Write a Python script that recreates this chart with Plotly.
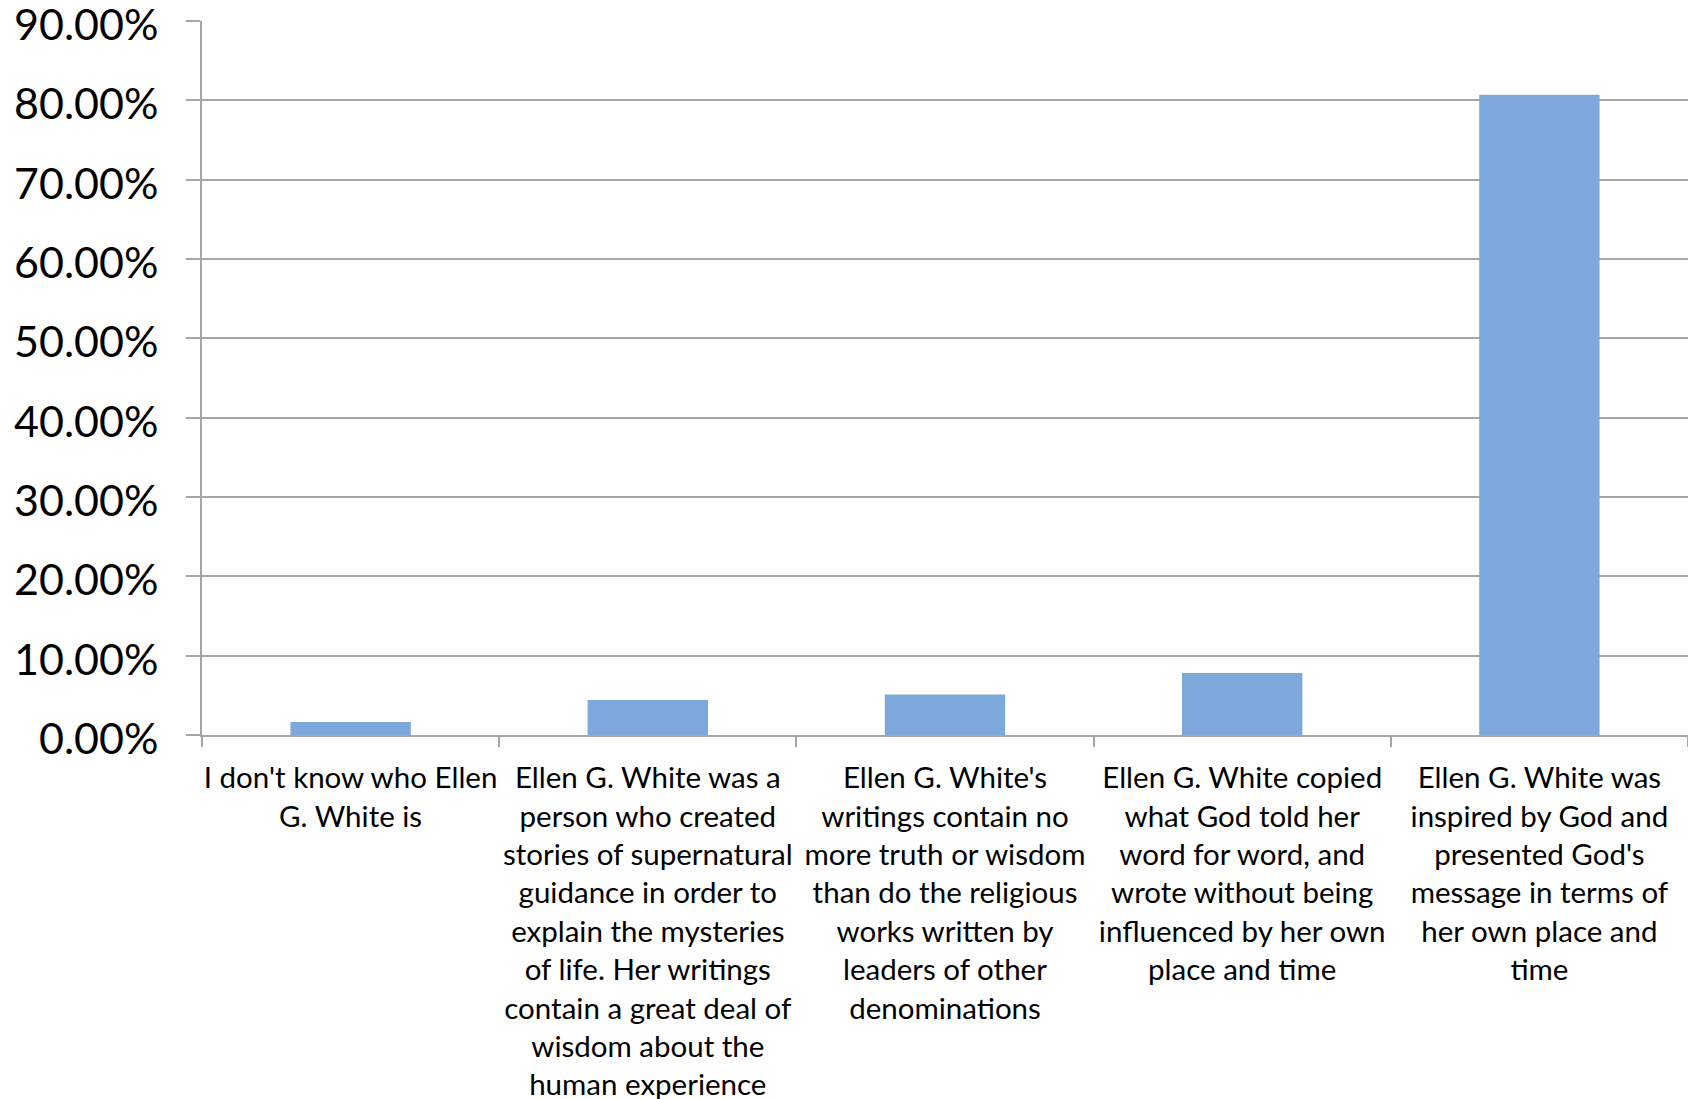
import plotly.graph_objects as go

categories = [
    "I don't know who Ellen<br>G. White is",
    "Ellen G. White was a<br>person who created<br>stories of supernatural<br>guidance in order to<br>explain the mysteries<br>of life. Her writings<br>contain a great deal of<br>wisdom about the<br>human experience",
    "Ellen G. White's<br>writings contain no<br>more truth or wisdom<br>than do the religious<br>works written by<br>leaders of other<br>denominations",
    "Ellen G. White copied<br>what God told her<br>word for word, and<br>wrote without being<br>influenced by her own<br>place and time",
    "Ellen G. White was<br>inspired by God and<br>presented God's<br>message in terms of<br>her own place and<br>time",
]
values = [1.65, 4.4, 5.1, 7.8, 80.7]
y_ticks = [0, 10, 20, 30, 40, 50, 60, 70, 80, 90]
y_tick_labels = [f"{v:.2f}%" for v in y_ticks]

FONT = "Lato"
GRID = "#A6A6A6"

fig = go.Figure(
    go.Bar(
        x=categories,
        y=values,
        width=0.405,
        marker=dict(color="#7CA8DB", line=dict(width=0)),
        hoverinfo="skip",
    )
)

fig.update_layout(
    width=1688,
    height=1099,
    margin=dict(l=202, r=0, t=21, b=364, pad=0),
    paper_bgcolor="white",
    plot_bgcolor="white",
    showlegend=False,
    font=dict(family=FONT, color="black"),
)

fig.update_yaxes(
    range=[0, 90],
    tickvals=y_ticks,
    ticktext=y_tick_labels,
    showgrid=True,
    gridcolor=GRID,
    gridwidth=2,
    showline=True,
    linecolor=GRID,
    linewidth=2,
    ticks="outside",
    ticklen=14,
    tickwidth=2,
    tickcolor=GRID,
    ticklabelstandoff=19,
    ticklabelshift=4,
    ticklabeloverflow="allow",
    automargin=False,
    tickfont=dict(family=FONT, size=43, color="black"),
    zeroline=False,
)

fig.update_xaxes(
    type="category",
    tickson="boundaries",
    ticks="outside",
    ticklen=10,
    tickwidth=2,
    tickcolor=GRID,
    showline=True,
    linecolor=GRID,
    linewidth=2,
    tickangle=0,
    automargin=False,
    ticklabelstandoff=16,
    ticklabeloverflow="allow",
    tickfont=dict(family=FONT, size=29.5, color="black"),
    showgrid=False,
)

fig.write_html(
    "out.html",
    config={"displayModeBar": False},
    post_script="document.body.style.margin='0';",
)
